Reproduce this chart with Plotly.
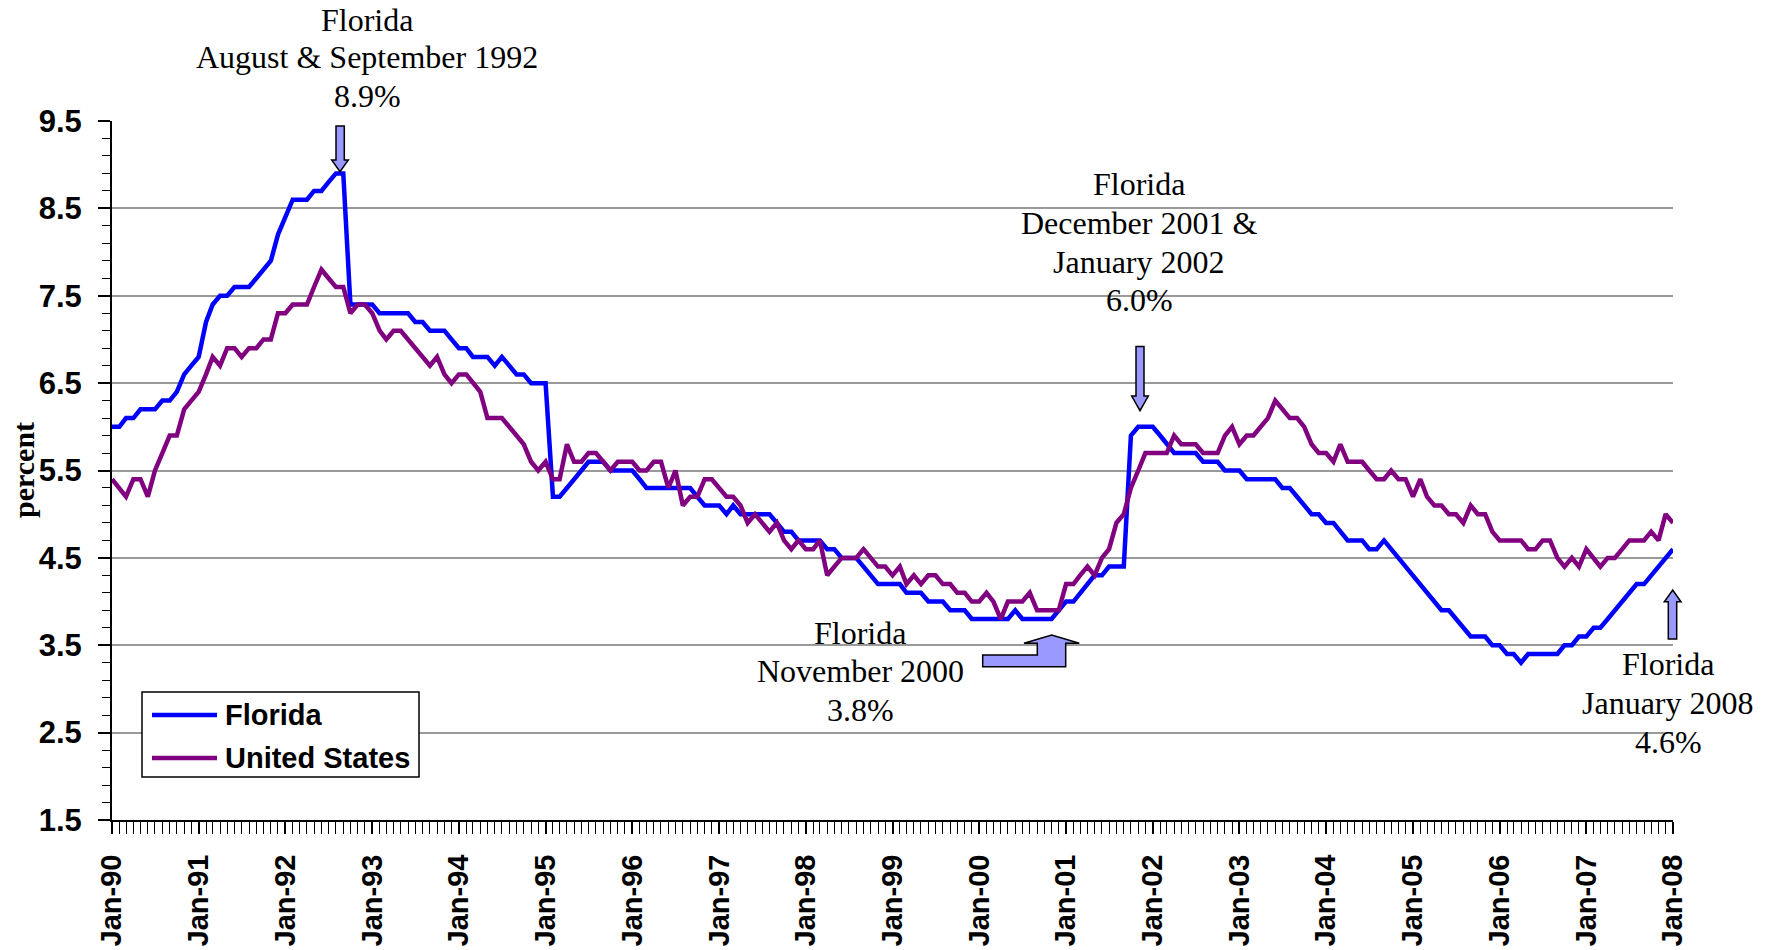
import pandas as pd
import plotly.graph_objects as go

# ---------------- data (monthly, Jan-1990 .. Jan-2008, percent) ----------------
months = pd.date_range("1990-01-01", "2008-01-01", freq="MS")

florida = [
    6.0, 6.0, 6.1, 6.1, 6.2, 6.2, 6.2, 6.3, 6.3, 6.4, 6.6, 6.7,   # 1990
    6.8, 7.2, 7.4, 7.5, 7.5, 7.6, 7.6, 7.6, 7.7, 7.8, 7.9, 8.2,   # 1991
    8.4, 8.6, 8.6, 8.6, 8.7, 8.7, 8.8, 8.9, 8.9, 7.4, 7.4, 7.4,   # 1992
    7.4, 7.3, 7.3, 7.3, 7.3, 7.3, 7.2, 7.2, 7.1, 7.1, 7.1, 7.0,   # 1993
    6.9, 6.9, 6.8, 6.8, 6.8, 6.7, 6.8, 6.7, 6.6, 6.6, 6.5, 6.5,   # 1994
    6.5, 5.2, 5.2, 5.3, 5.4, 5.5, 5.6, 5.6, 5.6, 5.5, 5.5, 5.5,   # 1995
    5.5, 5.4, 5.3, 5.3, 5.3, 5.3, 5.3, 5.3, 5.3, 5.2, 5.1, 5.1,   # 1996
    5.1, 5.0, 5.1, 5.0, 5.0, 5.0, 5.0, 5.0, 4.9, 4.8, 4.8, 4.7,   # 1997
    4.7, 4.7, 4.7, 4.6, 4.6, 4.5, 4.5, 4.5, 4.4, 4.3, 4.2, 4.2,   # 1998
    4.2, 4.2, 4.1, 4.1, 4.1, 4.0, 4.0, 4.0, 3.9, 3.9, 3.9, 3.8,   # 1999
    3.8, 3.8, 3.8, 3.8, 3.8, 3.9, 3.8, 3.8, 3.8, 3.8, 3.8, 3.9,   # 2000
    4.0, 4.0, 4.1, 4.2, 4.3, 4.3, 4.4, 4.4, 4.4, 5.9, 6.0, 6.0,   # 2001
    6.0, 5.9, 5.8, 5.7, 5.7, 5.7, 5.7, 5.6, 5.6, 5.6, 5.5, 5.5,   # 2002
    5.5, 5.4, 5.4, 5.4, 5.4, 5.4, 5.3, 5.3, 5.2, 5.1, 5.0, 5.0,   # 2003
    4.9, 4.9, 4.8, 4.7, 4.7, 4.7, 4.6, 4.6, 4.7, 4.6, 4.5, 4.4,   # 2004
    4.3, 4.2, 4.1, 4.0, 3.9, 3.9, 3.8, 3.7, 3.6, 3.6, 3.6, 3.5,   # 2005
    3.5, 3.4, 3.4, 3.3, 3.4, 3.4, 3.4, 3.4, 3.4, 3.5, 3.5, 3.6,   # 2006
    3.6, 3.7, 3.7, 3.8, 3.9, 4.0, 4.1, 4.2, 4.2, 4.3, 4.4, 4.5,   # 2007
    4.6,                                                          # Jan 2008
]

united_states = [
    5.4, 5.3, 5.2, 5.4, 5.4, 5.2, 5.5, 5.7, 5.9, 5.9, 6.2, 6.3,   # 1990
    6.4, 6.6, 6.8, 6.7, 6.9, 6.9, 6.8, 6.9, 6.9, 7.0, 7.0, 7.3,   # 1991
    7.3, 7.4, 7.4, 7.4, 7.6, 7.8, 7.7, 7.6, 7.6, 7.3, 7.4, 7.4,   # 1992
    7.3, 7.1, 7.0, 7.1, 7.1, 7.0, 6.9, 6.8, 6.7, 6.8, 6.6, 6.5,   # 1993
    6.6, 6.6, 6.5, 6.4, 6.1, 6.1, 6.1, 6.0, 5.9, 5.8, 5.6, 5.5,   # 1994
    5.6, 5.4, 5.4, 5.8, 5.6, 5.6, 5.7, 5.7, 5.6, 5.5, 5.6, 5.6,   # 1995
    5.6, 5.5, 5.5, 5.6, 5.6, 5.3, 5.5, 5.1, 5.2, 5.2, 5.4, 5.4,   # 1996
    5.3, 5.2, 5.2, 5.1, 4.9, 5.0, 4.9, 4.8, 4.9, 4.7, 4.6, 4.7,   # 1997
    4.6, 4.6, 4.7, 4.3, 4.4, 4.5, 4.5, 4.5, 4.6, 4.5, 4.4, 4.4,   # 1998
    4.3, 4.4, 4.2, 4.3, 4.2, 4.3, 4.3, 4.2, 4.2, 4.1, 4.1, 4.0,   # 1999
    4.0, 4.1, 4.0, 3.8, 4.0, 4.0, 4.0, 4.1, 3.9, 3.9, 3.9, 3.9,   # 2000
    4.2, 4.2, 4.3, 4.4, 4.3, 4.5, 4.6, 4.9, 5.0, 5.3, 5.5, 5.7,   # 2001
    5.7, 5.7, 5.7, 5.9, 5.8, 5.8, 5.8, 5.7, 5.7, 5.7, 5.9, 6.0,   # 2002
    5.8, 5.9, 5.9, 6.0, 6.1, 6.3, 6.2, 6.1, 6.1, 6.0, 5.8, 5.7,   # 2003
    5.7, 5.6, 5.8, 5.6, 5.6, 5.6, 5.5, 5.4, 5.4, 5.5, 5.4, 5.4,   # 2004
    5.2, 5.4, 5.2, 5.1, 5.1, 5.0, 5.0, 4.9, 5.1, 5.0, 5.0, 4.8,   # 2005
    4.7, 4.7, 4.7, 4.7, 4.6, 4.6, 4.7, 4.7, 4.5, 4.4, 4.5, 4.4,   # 2006
    4.6, 4.5, 4.4, 4.5, 4.5, 4.6, 4.7, 4.7, 4.7, 4.8, 4.7, 5.0,   # 2007
    4.9,                                                          # Jan 2008
]

series_names = ["Florida", "United States"]
series_colors = ["#0000FF", "#800080"]

y_ticks = [1.5, 2.5, 3.5, 4.5, 5.5, 6.5, 7.5, 8.5, 9.5]

# ---------------- layout geometry (pixels) ----------------
W, H = 1775, 950
L, R, T, B = 112, 1673, 121, 820
PW, PH = R - L, B - T


def px(x):
    return (x - L) / PW


def py(y):
    return (B - y) / PH


fig = go.Figure()
for name, vals, col in zip(series_names, [florida, united_states], series_colors):
    fig.add_trace(go.Scatter(
        x=months, y=vals, name=name, mode="lines",
        line=dict(color=col, width=4.5), showlegend=False,
    ))

tick_font = dict(family="Liberation Sans, Arial, sans-serif", size=31, color="black", weight="bold")

fig.update_layout(
    width=W, height=H, autosize=False,
    margin=dict(l=L, r=W - R, t=T, b=H - B, pad=0),
    paper_bgcolor="white", plot_bgcolor="white",
    xaxis=dict(
        type="date", range=["1990-01-01", "2008-01-01"],
        tick0="1990-01-01", dtick="M12", tickformat="%b-%y",
        tickangle=-90, tickfont=dict(tick_font, size=29),
        ticks="outside", ticklen=12, tickwidth=1.5, tickcolor="black",
        ticklabelstandoff=9, automargin=False,
        showline=True, linecolor="black", linewidth=2,
        showgrid=False, zeroline=False,
        minor=dict(dtick="M1", ticks="outside", ticklen=12, tickwidth=1.2,
                   tickcolor="black", showgrid=False),
    ),
    yaxis=dict(
        range=[1.5, 9.5], tickvals=y_ticks, tickformat=".1f",
        tickfont=tick_font,
        ticks="outside", ticklen=12, tickwidth=1.5, tickcolor="black",
        ticklabelstandoff=10, automargin=False,
        showline=True, linecolor="black", linewidth=2,
        showgrid=True, gridcolor="#9a9a9a", gridwidth=1.5, zeroline=False,
        minor=dict(dtick=0.2, tick0=1.5, ticks="outside", ticklen=8, tickwidth=1.2,
                   tickcolor="black", showgrid=False),
    ),
)

serif = dict(family="Liberation Serif, Times New Roman, serif", size=32, color="black")
annotations = []


def add_text(text, x, y, font=serif, xanchor="center", angle=0):
    annotations.append(dict(
        text=text, x=px(x), y=py(y), xref="paper", yref="paper",
        xanchor=xanchor, yanchor="middle", showarrow=False, font=font,
        textangle=angle,
    ))


# callout texts
for t, y in zip(["Florida", "August &amp; September 1992", "8.9%"], [20, 57, 96]):
    add_text(t, 367, y)
for t, y in zip(["Florida", "December 2001 &amp;", "January 2002", "6.0%"], [184, 223, 262, 300]):
    add_text(t, 1139, y)
for t, y in zip(["Florida", "November 2000", "3.8%"], [633, 671, 710]):
    add_text(t, 860, y)
for t, y in zip(["Florida", "January 2008", "4.6%"], [664, 703, 742]):
    add_text(t, 1668, y)

# y-axis title
add_text("<b>percent</b>", 23, 470,
         font=dict(family="Liberation Serif, Times New Roman, serif", size=30, color="black"),
         angle=-90)

# legend (drawn manually)
legend_font = dict(family="Liberation Sans, Arial, sans-serif", size=29, color="black", weight="bold")
shapes = [dict(type="rect", xref="paper", yref="paper",
               x0=px(142), x1=px(419), y0=py(692), y1=py(777),
               line=dict(color="black", width=1.5), fillcolor="white", layer="above")]
for name, col, y in zip(series_names, series_colors, [715, 758]):
    shapes.append(dict(type="line", xref="paper", yref="paper",
                       x0=px(152), x1=px(217), y0=py(y), y1=py(y),
                       line=dict(color=col, width=4.5), layer="above"))
    add_text(name, 223, y, font=legend_font, xanchor="left")


def path(points):
    return "M " + " L ".join(f"{px(x):.5f},{py(y):.5f}" for x, y in points) + " Z"


arrow_style = dict(type="path", xref="paper", yref="paper",
                   fillcolor="#9999FF", line=dict(color="black", width=1.5), layer="above")
arrows = [
    # down arrow, Aug/Sep 1992
    [(336, 126), (344.3, 126), (344.3, 160), (348.3, 160), (340, 171.7), (331.7, 160), (336, 160)],
    # down arrow, Dec 2001/Jan 2002
    [(1136, 346.5), (1144, 346.5), (1144, 396), (1148.3, 396), (1140, 410.7), (1131.7, 396), (1136, 396)],
    # bent arrow, Nov 2000
    [(982.7, 666.7), (1065.7, 666.7), (1065.7, 643.3), (1079.3, 643.3), (1051.7, 635),
     (1024, 643.3), (1037.3, 643.3), (1037.3, 655), (982.7, 655)],
    # up arrow, Jan 2008
    [(1668.3, 639), (1676.7, 639), (1676.7, 601.7), (1681, 601.7), (1672.7, 590),
     (1664.3, 601.7), (1668.3, 601.7)],
]
for a in arrows:
    shapes.append(dict(arrow_style, path=path(a)))

fig.update_layout(annotations=annotations, shapes=shapes)

fig.write_html(
    "out.html",
    config={"displayModeBar": False},
    post_script="document.body.style.margin='0';document.body.style.overflow='hidden';",
)
